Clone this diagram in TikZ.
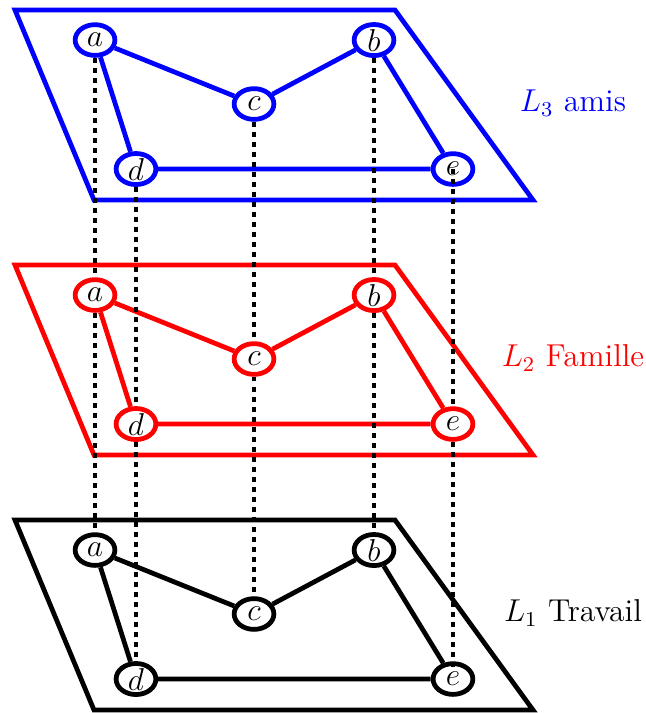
\documentclass[tikz,border=0pt,12pt]{standalone}
\usetikzlibrary{shapes.geometric}
\begin{document}
\begin{tikzpicture}

    % cadre de l'image
    \useasboundingbox (0,0) rectangle (8.613,9.507);

    % styles des sommets, arêtes et liens entre couches
    \tikzset{
        sommet/.style={draw=#1, fill=white, ellipse, line width=1.8pt, minimum width=0.53cm, minimum height=0.41cm, inner sep=0pt},
        arete/.style={draw=#1, line width=1.8pt},
        lien/.style={draw=black, line width=1.8pt, dotted}
    }

    % macro pour une couche
    % #1 = décalage vertical, #2 = couleur, #3 = indice, #4 = nom
    \newcommand{\couche}[4]{%
        \begin{scope}[yshift=#1cm]
            \draw[#2, line width=1.8pt] (0.2,2.573) -- (5.267,2.573) -- (7.107,0.04) -- (1.253,0.04) -- cycle;
            \node[sommet=#2] (a#3) at (1.267,2.173) {$a$};
            \node[sommet=#2] (b#3) at (4.987,2.173) {$b$};
            \node[sommet=#2] (c#3) at (3.387,1.32) {$c$};
            \node[sommet=#2] (d#3) at (1.813,0.453) {$d$};
            \node[sommet=#2] (e#3) at (6.04,0.453) {$e$};
            \draw[arete=#2] (a#3) -- (c#3) -- (b#3) -- (e#3) -- (d#3) -- (a#3);
            \node[#2] (L#3) at (7.64,1.333) {$L_#3$ #4};
        \end{scope}
    }

    % --- les trois couches ---
    \couche{0}{black}{1}{Travail}
    \couche{3.4}{red}{2}{Famille}
    \couche{6.8}{blue}{3}{amis}

    % --- liens verticaux ---
    \foreach \s in {a,b,c,d} {
        \draw[lien] (\s3) -- (\s2);
        \draw[lien] (\s2) -- (\s1);
    }
    \draw[lien] (e3.center) -- (e2);
    \draw[lien, shorten >=3.8pt] (e2) -- (e1.center);

\end{tikzpicture}
\end{document}
